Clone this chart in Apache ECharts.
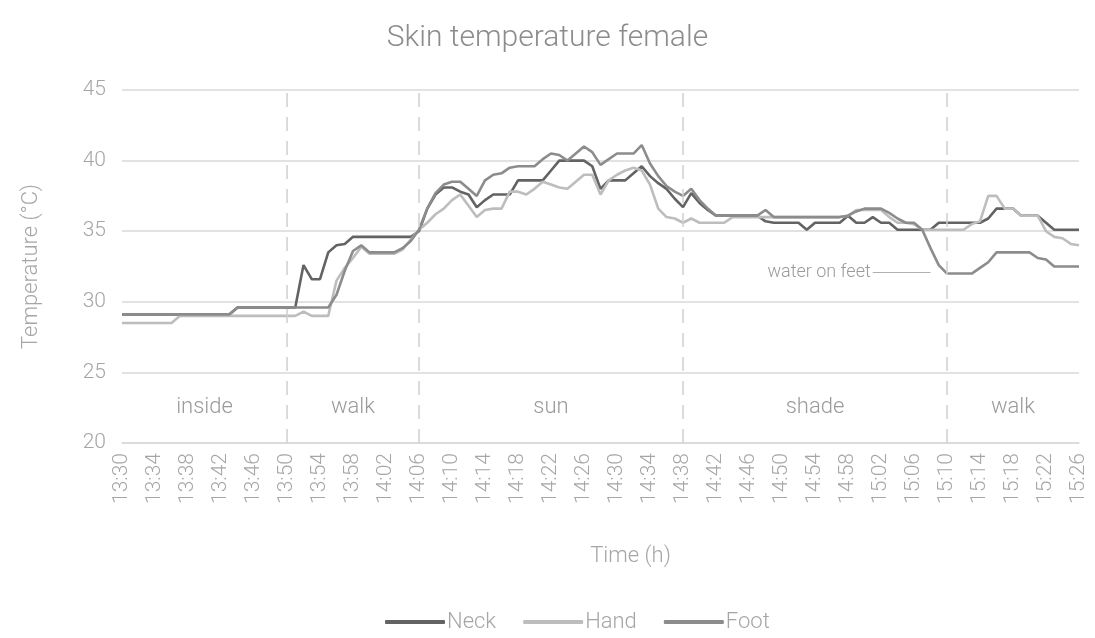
<!DOCTYPE html>
<html>
<head>
<meta charset="utf-8">
<title>Skin temperature female</title>
<script src="https://cdn.jsdelivr.net/npm/echarts@6/dist/echarts.min.js"></script>
<style>
  html, body { margin: 0; padding: 0; background: #fff; }
  #chart { width: 1095px; height: 638px; }
</style>
</head>
<body>
<div id="chart"></div>
<script>
// minutes from 13:30 to 15:26, one reading per minute
const times = [];
for (let m = 13 * 60 + 30; m <= 15 * 60 + 26; m++) {
  times.push(Math.floor(m / 60) + ':' + String(m % 60).padStart(2, '0'));
}

const neck = [
  29.1, 29.1, 29.1, 29.1, 29.1, 29.1, 29.1, 29.1, 29.1, 29.1, 29.1, 29.1, 29.1, 29.1,
  29.6, 29.6, 29.6, 29.6, 29.6, 29.6, 29.6, 29.6,
  32.6, 31.6, 31.6, 33.5, 34.0, 34.1, 34.6,
  34.6, 34.6, 34.6, 34.6, 34.6, 34.6, 34.6,
  35.0, 36.6, 37.6, 38.1, 38.1, 37.8, 37.6, 36.7, 37.2, 37.6, 37.6, 37.6,
  38.6, 38.6, 38.6, 38.6, 39.3, 40.0, 40.0, 40.0, 40.0, 39.6, 38.0, 38.6,
  38.6, 38.6, 39.1, 39.6, 38.9, 38.4, 38.0, 37.3, 36.7, 37.7, 37.0, 36.5,
  36.1, 36.1, 36.1, 36.1, 36.1, 36.1, 35.7,
  35.6, 35.6, 35.6, 35.6, 35.1, 35.6, 35.6, 35.6, 35.6,
  36.1, 35.6, 35.6, 36.0, 35.6, 35.6,
  35.1, 35.1, 35.1, 35.1, 35.1,
  35.6, 35.6, 35.6, 35.6, 35.6, 35.6,
  35.9, 36.6, 36.6, 36.6, 36.1, 36.1, 36.1, 35.6,
  35.1, 35.1, 35.1, 35.1
];

const hand = [
  28.5, 28.5, 28.5, 28.5, 28.5, 28.5, 28.5,
  29.0, 29.0, 29.0, 29.0, 29.0, 29.0, 29.0, 29.0, 29.0, 29.0, 29.0, 29.0, 29.0, 29.0, 29.0,
  29.3, 29.0, 29.0, 29.0, 31.5, 32.4, 33.1, 33.9, 33.4,
  33.4, 33.4, 33.4,
  33.7, 34.4, 35.1, 35.6, 36.2, 36.6, 37.2, 37.6, 36.8, 36.0, 36.5, 36.6,
  36.6, 37.8, 37.8, 37.6, 38.0, 38.5, 38.3, 38.1, 38.0, 38.5, 39.0, 39.0,
  37.6, 38.6, 39.0, 39.3, 39.5, 39.3, 38.3, 36.6, 36.0, 35.9, 35.6, 35.9,
  35.6, 35.6, 35.6, 35.6,
  36.0, 36.0, 36.0, 36.0, 36.0, 36.0, 36.0, 36.0, 36.0, 36.0, 36.0, 36.0, 36.0, 36.0,
  36.1, 36.5, 36.5, 36.5, 36.5,
  36.0, 35.6, 35.6, 35.5,
  35.1, 35.1, 35.1, 35.1, 35.1, 35.1,
  35.5, 35.7, 37.5, 37.5, 36.6, 36.6, 36.1, 36.1, 36.1, 35.0, 34.6, 34.5, 34.1, 34.0
];

const foot = [
  29.1, 29.1, 29.1, 29.1, 29.1, 29.1, 29.1, 29.1, 29.1, 29.1, 29.1, 29.1, 29.1, 29.1,
  29.6, 29.6, 29.6, 29.6, 29.6, 29.6, 29.6, 29.6, 29.6, 29.6, 29.6, 29.6,
  30.5, 32.2, 33.6, 34.0, 33.5,
  33.5, 33.5, 33.5,
  33.8, 34.3, 35.1, 36.6, 37.7, 38.3, 38.5, 38.5, 38.0, 37.5, 38.6, 39.0,
  39.1, 39.5, 39.6, 39.6, 39.6, 40.1, 40.5, 40.4, 40.0, 40.5, 41.0, 40.6,
  39.7, 40.1, 40.5, 40.5, 40.5, 41.1, 39.8, 38.9, 38.2, 37.8, 37.5, 38.0,
  37.2, 36.6,
  36.1, 36.1, 36.1, 36.1, 36.1, 36.1, 36.5,
  36.0, 36.0, 36.0, 36.0, 36.0, 36.0, 36.0, 36.0, 36.0,
  36.1, 36.4, 36.6, 36.6, 36.6,
  36.3, 35.9, 35.6, 35.6, 35.1, 33.8, 32.6,
  32.0, 32.0, 32.0, 32.0, 32.4, 32.8,
  33.5, 33.5, 33.5, 33.5, 33.5, 33.1, 33.0,
  32.5, 32.5, 32.5, 32.5
];

const phaseBounds = ['13:50', '14:06', '14:38', '15:10'];
const phaseNames = ['inside', 'walk', 'sun', 'shade', 'walk'];
const phaseCenters = ['13:40', '13:58', '14:22', '14:54', '15:18'];
const phaseLabelTemp = 22.5;

const waterNote = 'water on feet';
const waterFrom = ['15:01', 32.1];
const waterTo = ['15:08', 32.1];

const FONT = 'Roboto, "Open Sans", sans-serif';
const muted = '#a6a6a6';
const gridColor = '#d9d9d9';

const chart = echarts.init(document.getElementById('chart'));

const lineSeries = (name, data, color) => ({
  name: name,
  type: 'line',
  data: data,
  showSymbol: false,
  symbol: 'none',
  lineStyle: { color: color, width: 2.6 },
  itemStyle: { color: color },
  emphasis: { disabled: true },
  z: 3
});

const neckSeries = lineSeries('Neck', neck, '#636363');
neckSeries.markLine = {
  silent: true,
  symbol: 'none',
  lineStyle: { color: '#d0d0d0', width: 1.5, type: [14, 10] },
  label: { show: false },
  data: phaseBounds.map(t => ({ xAxis: t }))
};
neckSeries.markPoint = {
  silent: true,
  symbol: 'circle',
  symbolSize: 0,
  label: {
    show: true,
    position: 'inside',
    formatter: '{b}',
    color: '#9a9a9a',
    fontFamily: FONT,
    fontWeight: 300,
    fontSize: 22
  },
  data: phaseNames.map((n, i) => ({ name: n, coord: [phaseCenters[i], phaseLabelTemp] }))
};

const footSeries = lineSeries('Foot', foot, '#8c8c8c');
footSeries.markLine = {
  silent: true,
  symbol: 'none',
  lineStyle: { color: '#b0b0b0', width: 1, type: 'solid' },
  label: {
    show: true,
    position: 'start',
    formatter: waterNote,
    color: '#9a9a9a',
    fontFamily: FONT,
    fontWeight: 300,
    fontSize: 18,
    distance: 2
  },
  data: [[{ coord: waterFrom }, { coord: waterTo }]]
};

chart.setOption({
  animation: false,
  textStyle: { fontFamily: FONT },
  title: {
    text: 'Skin temperature female',
    left: 'center',
    top: 18,
    textStyle: { color: '#8c8c8c', fontSize: 30, fontWeight: 300, fontFamily: FONT }
  },
  legend: {
    data: ['Neck', 'Hand', 'Foot'],
    left: 380,
    bottom: 0,
    icon: 'roundRect',
    itemWidth: 60,
    itemHeight: 4,
    itemGap: 27,
    textStyle: { color: muted, fontSize: 22, fontWeight: 300, padding: [0, 0, 0, -3] }
  },
  grid: { left: 122, right: 16, top: 90, bottom: 195 },
  xAxis: {
    type: 'category',
    data: times,
    boundaryGap: false,
    name: 'Time (h)',
    nameLocation: 'middle',
    nameGap: 102,
    nameTextStyle: { color: muted, fontSize: 22, fontWeight: 300, padding: [0, 0, 0, 60] },
    axisLine: { lineStyle: { color: gridColor, width: 1.5 } },
    axisTick: { show: false },
    axisLabel: {
      interval: 3,
      rotate: 90,
      color: muted,
      fontSize: 21,
      fontWeight: 300,
      margin: 10
    },
    splitLine: { show: false }
  },
  yAxis: {
    type: 'value',
    min: 20,
    max: 45,
    interval: 5,
    name: 'Temperature (°C)',
    nameLocation: 'middle',
    nameGap: 80,
    nameTextStyle: { color: muted, fontSize: 22, fontWeight: 300 },
    axisLine: { show: false },
    axisTick: { show: false },
    axisLabel: { color: muted, fontSize: 21, fontWeight: 300, margin: 16 },
    splitLine: { lineStyle: { color: gridColor, width: 1.5 } }
  },
  series: [
    neckSeries,
    lineSeries('Hand', hand, '#bdbdbd'),
    footSeries
  ]
});
</script>
</body>
</html>
